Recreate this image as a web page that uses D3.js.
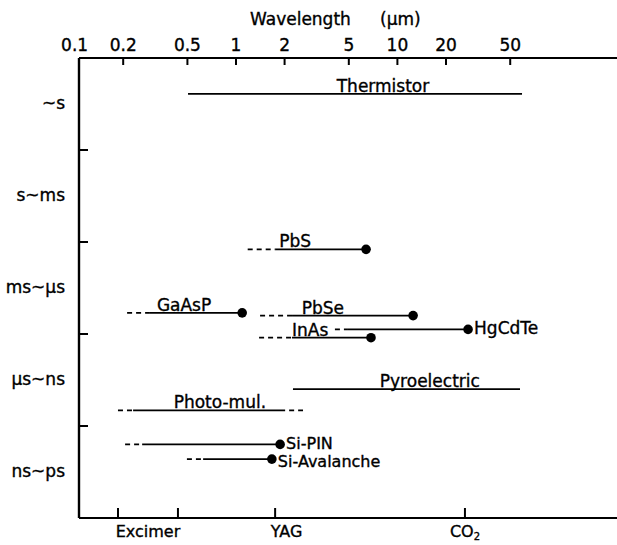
<!DOCTYPE html>
<html>
<head>
<meta charset="utf-8">
<script src="https://cdn.jsdelivr.net/npm/d3@7"></script>
<style>
  body { margin: 0; background: #fff; }
  svg text { font-family: "DejaVu Sans", sans-serif; fill: #000; stroke: #000; stroke-width: 0.35px; }
</style>
</head>
<body>
<script>
// ---------- data ----------
const topTicks = [0.1, 0.2, 0.5, 1, 2, 5, 10, 20, 50];
const topTickLabels = ["0.1", "0.2", "0.5", "1", "2", "5", "10", "20", "50"];
const categories = ["~s", "s~ms", "ms~µs", "µs~ns", "ns~ps"];

const detectors   = ["Thermistor", "PbS", "GaAsP", "PbSe", "HgCdTe", "InAs", "Pyroelectric", "Photo-mul.", "Si-PIN", "Si-Avalanche"];
const responseRow = [0.39, 2.08, 2.77, 2.80, 2.95, 3.04, 3.60, 3.83, 4.20, 4.36];
const dashStart   = [null, 1.19, 0.213, 1.42, 4.13, 1.40, null, 0.187, 0.207, 0.50];
const solidStart  = [0.508, 1.76, 0.295, 2.24, 4.91, 2.24, 2.27, 0.232, 0.264, 0.63];
const solidEnd    = [59.6, 6.44, 1.10, 12.6, 27.6, 6.91, 57.9, 2.03, 1.89, 1.68];
const dashEnd     = [null, null, null, null, null, null, null, 2.62, null, null];
const hasDot      = [false, true, true, true, true, true, false, false, true, true];
const labelAt     = [8.2, 2.34, 0.48, 3.48, null, 2.90, 16.0, 0.80, null, null];

const laserWl = [0.187, 0.44, 1.76, 26.4];
const laserLabels = ["Excimer", "YAG", "CO2"];
const laserLabelWl = [0.287, 2.07, 26.4];

// ---------- layout ----------
const W = 617, H = 545;
const mLeft = 79, mTop = 58, mBottom = 518, mRight = 617;

const svg = d3.select("body").append("svg").attr("width", W).attr("height", H);

const x = d3.scaleLog().domain([0.1, 100]).range([74.1, 74.1 + 3 * 161.4]);
const yBand = d3.scaleBand().domain(categories).range([mTop, mBottom]);
const yRow = d3.scaleLinear().domain([0, categories.length]).range([mTop, mBottom]);

// top axis
const topAxis = d3.axisTop(x).tickValues(topTicks)
  .tickFormat((d, i) => topTickLabels[i]).tickSize(-7).tickPadding(7).tickSizeOuter(0);
const gTop = svg.append("g").attr("transform", `translate(0,${mTop})`).call(topAxis);
gTop.select(".domain").remove();
gTop.selectAll(".tick line").attr("stroke", "#000").attr("stroke-width", 2)
  .filter(d => d === 0.1).remove();
gTop.selectAll(".tick text").attr("font-size", 17).attr("font-family", "DejaVu Sans");

// frame lines
svg.append("line").attr("x1", mLeft).attr("x2", mRight).attr("y1", mTop).attr("y2", mTop)
  .attr("stroke", "#000").attr("stroke-width", 2);
svg.append("line").attr("x1", mLeft).attr("x2", mLeft).attr("y1", mTop).attr("y2", mBottom)
  .attr("stroke", "#000").attr("stroke-width", 2.4);
svg.append("line").attr("x1", mLeft).attr("x2", mRight).attr("y1", mBottom).attr("y2", mBottom)
  .attr("stroke", "#000").attr("stroke-width", 2);

// title
const title = svg.append("text").attr("y", 25).attr("font-size", 17);
title.append("tspan").attr("x", 250).text("Wavelength");
title.append("tspan").attr("x", 380).text("(µm)");

// left axis labels
const leftAxis = d3.axisLeft(yBand).tickSize(0).tickPadding(14);
const gLeft = svg.append("g").attr("transform", `translate(${mLeft},0)`).call(leftAxis);
gLeft.select(".domain").remove();
gLeft.selectAll(".tick text").attr("font-size", 17).attr("font-family", "DejaVu Sans");

// left boundary ticks
svg.append("g").selectAll("line").data(categories.slice(1)).join("line")
  .attr("x1", mLeft).attr("x2", mLeft + 9)
  .attr("y1", d => yBand(d)).attr("y2", d => yBand(d))
  .attr("stroke", "#000").attr("stroke-width", 2);

// bottom laser ticks
svg.append("g").selectAll("line").data(laserWl).join("line")
  .attr("x1", d => x(d)).attr("x2", d => x(d))
  .attr("y1", mBottom).attr("y2", mBottom - 10)
  .attr("stroke", "#000").attr("stroke-width", 2);

const bl = svg.append("g").selectAll("text").data(laserLabels).join("text")
  .attr("x", (d, i) => x(laserLabelWl[i])).attr("y", 537)
  .attr("text-anchor", "middle").attr("font-size", 16);
bl.each(function (d) {
  const t = d3.select(this);
  if (d === "CO2") {
    t.append("tspan").text("CO");
    t.append("tspan").attr("font-size", 10).attr("dy", 3).text("2");
  } else t.text(d);
});

// detectors
const g = svg.append("g");
let prevRightLabelY = -Infinity;
detectors.forEach((name, i) => {
  const y = yRow(responseRow[i]);
  if (dashStart[i] != null)
    g.append("line").attr("x1", x(dashStart[i])).attr("x2", x(solidStart[i]))
      .attr("y1", y).attr("y2", y).attr("stroke", "#000").attr("stroke-width", 1.8)
      .attr("stroke-dasharray", "5,4");
  g.append("line").attr("x1", x(solidStart[i])).attr("x2", x(solidEnd[i]))
    .attr("y1", y).attr("y2", y).attr("stroke", "#000").attr("stroke-width", 1.8);
  if (dashEnd[i] != null)
    g.append("line").attr("x1", x(solidEnd[i]) + 4).attr("x2", x(dashEnd[i]))
      .attr("y1", y).attr("y2", y).attr("stroke", "#000").attr("stroke-width", 1.8)
      .attr("stroke-dasharray", "5,4");
  if (hasDot[i])
    g.append("circle").attr("cx", x(solidEnd[i])).attr("cy", y).attr("r", 4.8).attr("fill", "#000");
  if (labelAt[i] != null) {
    g.append("text").attr("x", x(labelAt[i])).attr("y", y - 2)
      .attr("text-anchor", "middle").attr("font-size", 17).text(name);
  } else {
    // keep stacked right-hand labels from colliding
    let ty = y + 5, fs = 17;
    if (ty - prevRightLabelY < 40) { fs = 16; }
    if (ty - prevRightLabelY < 18) ty = prevRightLabelY + 18;
    const next = detectors.findIndex((n, j) => j > i && labelAt[j] == null);
    if (next > 0 && yRow(responseRow[next]) - y < 40) fs = 16;
    prevRightLabelY = ty;
    g.append("text").attr("x", x(solidEnd[i]) + 6).attr("y", ty)
      .attr("font-size", fs).text(name);
  }
});
</script>
</body>
</html>
